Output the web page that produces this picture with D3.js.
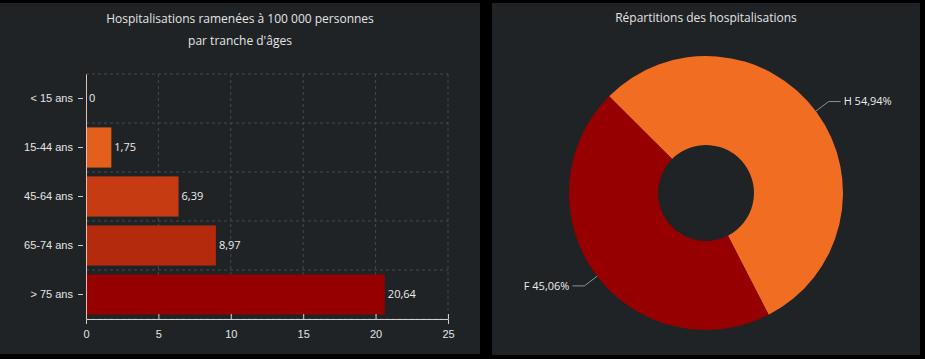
<!DOCTYPE html>
<html>
<head>
<meta charset="utf-8">
<script src="https://cdn.jsdelivr.net/npm/d3@7"></script>
<style>
  body { margin:0; background:#000; }
  svg { display:block; font-family:"Open Sans", "Noto Sans", sans-serif; }
  .tick text { fill:#e4e4e4; }
</style>
</head>
<body>
<svg id="chart" width="925" height="359"></svg>
<script>
// data
var ageGroups = ["< 15 ans", "15-44 ans", "45-64 ans", "65-74 ans", "> 75 ans"];
var ageValues = [0, 1.75, 6.39, 8.97, 20.64];
var ageColors = ["#e8661f", "#e35f1b", "#c63b11", "#b42a0d", "#960000"];
var xTicks = [0, 5, 10, 15, 20, 25];

var sexLabels = ["H", "F"];
var sexShares = [54.94, 45.06];
var sexColors = ["#f06d21", "#960000"];

var fmt = function(v){ return String(v).replace(".", ","); };

var svg = d3.select("#chart");

// panels
svg.append("rect").attr("x",0).attr("y",3).attr("width",480).attr("height",351).attr("fill","#1f2326");
svg.append("rect").attr("x",492).attr("y",3).attr("width",428).attr("height",352).attr("fill","#1f2326");

// ---- bar chart
var left = svg.append("g");

left.append("text").attr("x",240).attr("y",23).attr("text-anchor","middle")
  .attr("fill","#e4e4e4").style("font-size","12px")
  .text("Hospitalisations ramenées à 100 000 personnes");
left.append("text").attr("x",240).attr("y",45).attr("text-anchor","middle")
  .attr("fill","#e4e4e4").style("font-size","12px")
  .text("par tranche d'âges");

var x = d3.scaleLinear().domain([0,25]).range([86,448]);
var y = d3.scaleBand().domain(ageGroups).range([74,319]).paddingInner(0.18).paddingOuter(0.09);

// grid
var step = y.step();
var bounds = d3.range(ageGroups.length+1).map(function(i){ return 74 + i*step; });
left.selectAll(".hgrid").data(bounds).enter().append("line")
  .attr("x1",86).attr("x2",448).attr("y1",function(d){return d;}).attr("y2",function(d){return d;})
  .attr("stroke","#454a4f").attr("stroke-dasharray","3,3");
left.selectAll(".vgrid").data(xTicks.slice(1)).enter().append("line")
  .attr("x1",function(d){return x(d);}).attr("x2",function(d){return x(d);})
  .attr("y1",74).attr("y2",319)
  .attr("stroke","#454a4f").attr("stroke-dasharray","3,3");

// bars
left.selectAll(".bar").data(ageValues).enter().append("rect")
  .attr("x",x(0))
  .attr("y",function(d,i){ return y(ageGroups[i]); })
  .attr("width",function(d){ return x(d)-x(0); })
  .attr("height",y.bandwidth())
  .attr("fill",function(d,i){ return ageColors[i]; });

left.selectAll(".val").data(ageValues).enter().append("text")
  .attr("x",function(d){ return x(d)+3; })
  .attr("y",function(d,i){ return y(ageGroups[i]) + y.bandwidth()/2; })
  .attr("dy","0.35em").attr("fill","#ececec").style("font-size","11px")
  .text(function(d){ return fmt(d); });

// axes
var xAxis = left.append("g").attr("transform","translate(0,319)")
  .call(d3.axisBottom(x).tickValues(xTicks).tickSize(5).tickPadding(6));
xAxis.select(".domain").attr("stroke","#cfcfcf");
xAxis.selectAll(".tick line").attr("stroke","#cfcfcf").attr("transform","translate(0,-5)");
xAxis.selectAll("text").style("font-size","11px");

var yAxis = left.append("g").attr("transform","translate(86,0)")
  .call(d3.axisLeft(y).tickSize(5).tickPadding(8).tickSizeOuter(0));
yAxis.select(".domain").attr("stroke","#e0c4ae");
yAxis.selectAll(".tick line").attr("stroke","#cfcfcf").attr("transform","translate(-3,0)");
yAxis.selectAll("text").style("font-size","11px");

// ---- donut
var right = svg.append("g");
right.append("text").attr("x",706).attr("y",22).attr("text-anchor","middle")
  .attr("fill","#e4e4e4").style("font-size","12px")
  .text("Répartitions des hospitalisations");

var cx = 706, cy = 193, rOut = 137, rIn = 48;
var pie = d3.pie().sort(null).startAngle(-Math.PI/4).endAngle(7*Math.PI/4);
var arcs = pie(sexShares);
var arc = d3.arc().innerRadius(rIn).outerRadius(rOut);

var donut = right.append("g").attr("transform","translate("+cx+","+cy+")");
donut.selectAll("path").data(arcs).enter().append("path")
  .attr("d",arc).attr("fill",function(d,i){ return sexColors[i]; });

// labels with leader lines
arcs.forEach(function(a,i){
  var mid = (a.startAngle + a.endAngle)/2;
  var side = Math.sin(mid) > 0 ? 1 : -1;
  // H label sits up-right, F label down-left
  var ang = i === 0 ? 0.93 : 4.06;
  var p0 = [Math.sin(ang)*rOut, -Math.cos(ang)*rOut];
  var p1 = [Math.sin(ang)*(rOut+16), -Math.cos(ang)*(rOut+16)];
  var p2 = [p1[0] + side*12, p1[1]];
  donut.append("polyline")
    .attr("points",[p0,p1,p2].map(function(p){return p.join(",");}).join(" "))
    .attr("fill","none").attr("stroke","#8d9094").attr("stroke-width",1);
  donut.append("text")
    .attr("x",p2[0] + side*3).attr("y",p2[1])
    .attr("dy","0.35em")
    .attr("text-anchor", side > 0 ? "start" : "end")
    .attr("fill","#ececec").style("font-size","11px")
    .text(sexLabels[i] + " " + fmt(sexShares[i]) + "%");
});
</script>
</body>
</html>
